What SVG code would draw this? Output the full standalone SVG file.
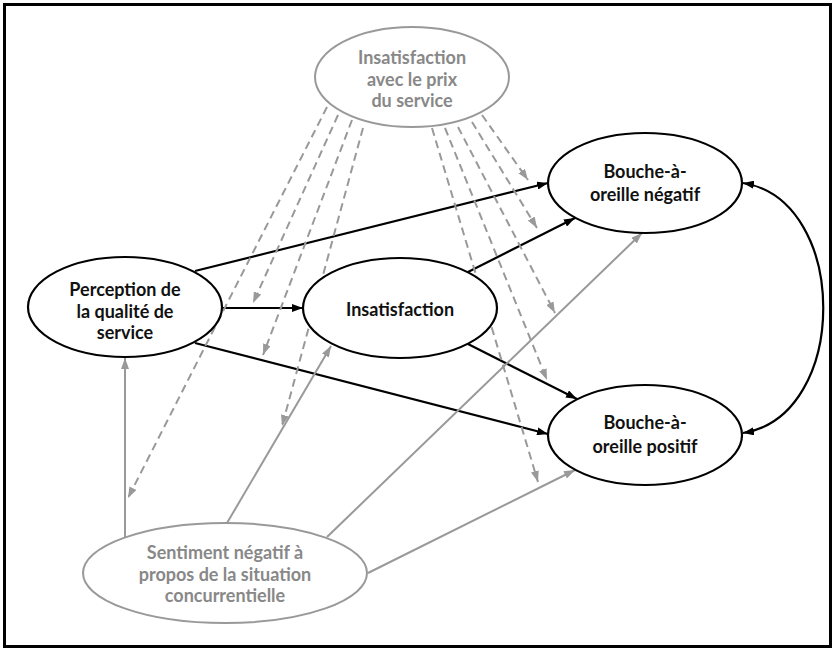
<svg xmlns="http://www.w3.org/2000/svg" width="834" height="649" viewBox="0 0 834 649">
<style>
.bg{fill:#ffffff}
.frame{fill:none;stroke:#000;stroke-width:3}
.nb{fill:#fff;stroke:#000;stroke-width:2.2}
.ng{fill:#fff;stroke:#999;stroke-width:2}
.tb{font-family:Lato,"Open Sans","Liberation Sans",sans-serif;font-weight:bold;font-size:18px;fill:#111;text-anchor:middle}
.tg{font-family:Lato,"Open Sans","Liberation Sans",sans-serif;font-weight:bold;font-size:18px;fill:#888;text-anchor:middle}
.cb{fill:none;stroke:#000;stroke-width:2.2;marker-end:url(#ab)}
.cg{fill:none;stroke:#999;stroke-width:2;marker-end:url(#ag)}
.cd{fill:none;stroke:#999;stroke-width:2;stroke-dasharray:8 5;marker-end:url(#ag)}
</style>
<defs>
<marker id="ab" markerUnits="userSpaceOnUse" markerWidth="12" markerHeight="8" refX="11" refY="4" orient="auto-start-reverse"><path d="M0,0 L11,4 L0,8 Z" fill="#000"/></marker>
<marker id="ag" markerUnits="userSpaceOnUse" markerWidth="12" markerHeight="8" refX="11" refY="4" orient="auto-start-reverse"><path d="M0,0 L11,4 L0,8 Z" fill="#999"/></marker>
</defs>
<rect class="bg" x="0" y="0" width="834" height="649"/>
<rect class="frame" x="4.5" y="4.5" width="826" height="642"/>
<g id="connectors">
<path class="cb" d="M195,271 L548,183"/>
<path class="cb" d="M222,308 L303,308"/>
<path class="cb" d="M195,343 L548,434"/>
<path class="cb" d="M468,272 L575,218"/>
<path class="cb" d="M468,344 L577,399"/>
<path class="cb" style="marker-start:url(#ab)" d="M743,183 C850,200 850,416 743,433"/>
<path class="cg" d="M125,537 L125,358"/>
<path class="cg" d="M227,523 L331,346"/>
<path class="cg" d="M327,537 L642,233"/>
<path class="cg" d="M368,573 L575,470"/>
<path class="cd" d="M327,107 L128,498"/>
<path class="cd" d="M338,115 L253,303"/>
<path class="cd" d="M352,120 L263,355"/>
<path class="cd" d="M363,128 L282,426"/>
<path class="cd" d="M432,128 L538,482"/>
<path class="cd" d="M445,128 L547,380"/>
<path class="cd" d="M458,127 L555,313"/>
<path class="cd" d="M472,122 L537,228"/>
<path class="cd" d="M482,115 L528,180"/>
</g>
<g id="prix">
<ellipse class="ng" cx="412" cy="77" rx="97" ry="50"/>
<text class="tg" x="412" y="64">Insatisfaction</text>
<text class="tg" x="412" y="86">avec le prix</text>
<text class="tg" x="412" y="107">du service</text>
</g>
<g id="perception">
<ellipse class="nb" cx="125" cy="307" rx="97" ry="50"/>
<text class="tb" x="125" y="296">Perception de</text>
<text class="tb" x="125" y="318">la qualité de</text>
<text class="tb" x="125" y="339">service</text>
</g>
<g id="insatisfaction">
<ellipse class="nb" cx="400" cy="308" rx="97" ry="50"/>
<text class="tb" x="400" y="316">Insatisfaction</text>
</g>
<g id="negatif">
<ellipse class="nb" cx="645" cy="183" rx="97" ry="50"/>
<text class="tb" x="645" y="178">Bouche-à-</text>
<text class="tb" x="645" y="201">oreille négatif</text>
</g>
<g id="positif">
<ellipse class="nb" cx="645" cy="435" rx="97" ry="50"/>
<text class="tb" x="645" y="429">Bouche-à-</text>
<text class="tb" x="645" y="453">oreille positif</text>
</g>
<g id="sentiment">
<ellipse class="ng" cx="225" cy="573" rx="142" ry="50"/>
<text class="tg" x="225" y="559">Sentiment négatif à</text>
<text class="tg" x="225" y="581">propos de la situation</text>
<text class="tg" x="225" y="602">concurrentielle</text>
</g>
</svg>
